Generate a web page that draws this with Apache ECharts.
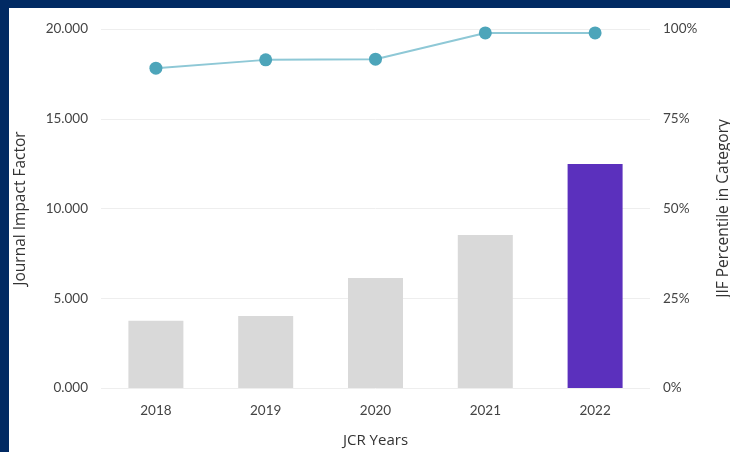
<!DOCTYPE html>
<html>
<head>
<meta charset="utf-8">
<script src="https://cdn.jsdelivr.net/npm/echarts@6/dist/echarts.min.js"></script>
<style>
html,body{margin:0;padding:0;background:#fff;}
#wrap{position:absolute;left:0;top:0;width:730px;height:452px;background:#012a63;}
#chart{position:absolute;left:9px;top:8px;width:721px;height:444px;background:#fff;}
</style>
</head>
<body>
<div id="wrap"><div id="chart"></div></div>
<script>
var years = ['2018', '2019', '2020', '2021', '2022'];
var jifValues = [3.75, 4.01, 6.13, 8.52, 12.48];
var percentileValues = [89.1, 91.4, 91.6, 98.9, 98.9];
var leftTicks = {min: 0, max: 20, interval: 5};
var rightTicks = {min: 0, max: 100, interval: 25};

var font = 'Lato, "Open Sans", sans-serif';
var nameFont = '"Open Sans", sans-serif';
var chart = echarts.init(document.getElementById('chart'));
chart.setOption({
  animation: false,
  grid: {left: 92, right: 80, top: 21, bottom: 64, containLabel: false, outerBoundsMode: 'none'},
  xAxis: {
    type: 'category',
    data: years,
    name: 'JCR Years',
    nameLocation: 'middle',
    nameGap: 45,
    nameTextStyle: {color: '#333', fontSize: 15, fontFamily: nameFont},
    axisLine: {show: false},
    axisTick: {show: false},
    axisLabel: {color: '#444', fontSize: 13.5, fontFamily: font, margin: 16}
  },
  yAxis: [{
    type: 'value',
    min: leftTicks.min, max: leftTicks.max, interval: leftTicks.interval,
    name: 'Journal Impact Factor',
    nameLocation: 'middle',
    nameGap: 72,
    nameRotate: 90,
    nameTextStyle: {color: '#333', fontSize: 15.5, fontFamily: nameFont},
    axisLine: {show: false},
    axisTick: {show: false},
    axisLabel: {color: '#444', fontSize: 13.5, fontFamily: font, margin: 13,
      formatter: function (v) { return v.toFixed(3); }},
    splitLine: {lineStyle: {color: '#eeeeee'}}
  }, {
    type: 'value',
    position: 'right',
    min: rightTicks.min, max: rightTicks.max, interval: rightTicks.interval,
    name: 'JIF Percentile in Category',
    nameLocation: 'middle',
    nameGap: 66,
    nameRotate: 90,
    nameTextStyle: {color: '#333', fontSize: 15.5, fontFamily: nameFont},
    axisLine: {show: false},
    axisTick: {show: false},
    axisLabel: {color: '#444', fontSize: 13.5, fontFamily: font, margin: 13,
      formatter: '{value}%'},
    splitLine: {show: false}
  }],
  series: [{
    type: 'bar',
    yAxisIndex: 0,
    barWidth: 55,
    data: jifValues.map(function (v, i) {
      return {value: v, itemStyle: {color: i === jifValues.length - 1 ? '#5b30bd' : '#d9d9d9'}};
    })
  }, {
    type: 'line',
    yAxisIndex: 1,
    data: percentileValues,
    symbol: 'circle',
    symbolSize: 13,
    lineStyle: {color: '#8ec8d6', width: 2},
    itemStyle: {color: '#4da5ba'}
  }]
});
</script>
</body>
</html>
